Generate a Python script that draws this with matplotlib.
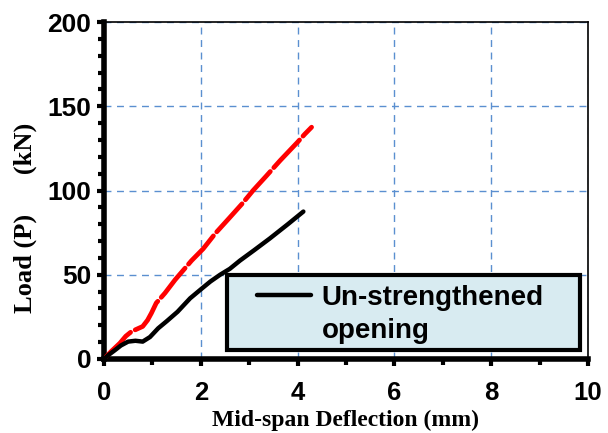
import matplotlib.pyplot as plt
from matplotlib.lines import Line2D
from matplotlib.patches import Rectangle
from matplotlib.ticker import MultipleLocator

# black curve: un-strengthened opening
defl_unstr = [0.0, 0.1, 0.23, 0.35, 0.5, 0.65, 0.8, 0.95, 1.12, 1.3, 1.52, 1.78,
              2.03, 2.2, 2.4, 2.6, 2.81, 3.1, 3.43, 3.8, 4.12]
load_unstr = [0.0, 2.5, 5.3, 8.0, 10.3, 10.8, 10.3, 13.0, 18.2, 22.5, 28.0, 36.0,
              42.0, 46.0, 50.0, 53.5, 58.4, 64.5, 71.6, 80.0, 87.5]

# red dashed curve
defl_red = [0.0, 0.15, 0.33, 0.45, 0.57, 0.8, 0.9, 0.98, 1.08, 1.26, 1.47, 1.81,
            2.05, 2.3, 2.6, 2.85, 3.08, 3.35, 3.64, 4.0, 4.15, 4.29]
load_red = [0.0, 4.5, 9.4, 13.5, 16.3, 19.3, 23.0, 27.2, 33.2, 39.1, 47.0, 58.4,
            65.4, 74.5, 84.0, 92.0, 100.0, 108.5, 117.8, 128.7, 133.5, 137.6]

x_ticks = [0, 2, 4, 6, 8, 10]
y_ticks = [0, 50, 100, 150, 200]
legend_lines = ["Un-strengthened", "opening"]

fig = plt.figure(figsize=(6.08, 4.33), dpi=100)
ax = fig.add_axes([0.171, 0.171, 0.796, 0.778])

ax.plot(defl_red, load_red, color="#ff0000", lw=3.4, dashes=(8, 1.1),
        solid_capstyle="round", dash_capstyle="round", zorder=3)
ax.plot(defl_unstr, load_unstr, color="black", lw=3.2, solid_capstyle="round",
        solid_joinstyle="round", zorder=4)

ax.set_xlim(0, 10)
ax.set_ylim(0, 200)
ax.set_xticks(x_ticks)
ax.set_yticks(y_ticks)
ax.xaxis.set_minor_locator(MultipleLocator(1))
ax.yaxis.set_minor_locator(MultipleLocator(10))
ax.tick_params(axis="both", which="major", direction="out", length=5, width=3)
ax.tick_params(axis="both", which="minor", direction="out", length=4, width=3)
ax.tick_params(axis="x", which="major", labelsize=18.5, pad=11)
ax.tick_params(axis="y", which="major", labelsize=19, pad=4)
for lbl in ax.get_xticklabels() + ax.get_yticklabels():
    lbl.set_fontweight("bold")
    lbl.set_family("Liberation Sans")

ax.grid(True, which="major", color="#5b8fd0", linestyle=(0, (5, 4)), lw=1.0)

ax.spines["left"].set_linewidth(4)
ax.spines["bottom"].set_linewidth(4)
ax.spines["top"].set_linewidth(1.2)
ax.spines["right"].set_linewidth(1.2)

ax.set_xlabel("Mid-span Deflection (mm)", family="Liberation Serif",
              fontweight="bold", fontsize=17)
ax.xaxis.set_label_coords(0.5, -0.15)
ax.set_ylabel("Load (P)      (kN)", family="Liberation Serif",
              fontweight="bold", fontsize=19)
ax.yaxis.set_label_coords(-0.138, 0.42)

# legend box drawn by hand so the padding matches
ax.add_patch(Rectangle((0.254, 0.027), 0.729, 0.222, transform=ax.transAxes,
                       facecolor="#d8ebf1", edgecolor="black", lw=3,
                       zorder=5, clip_on=False))
ax.add_line(Line2D([0.317, 0.428], [0.19, 0.19], transform=ax.transAxes,
                   color="black", lw=3.2, solid_capstyle="round", zorder=6))
for txt, yb in zip(legend_lines, [0.160, 0.061]):
    ax.text(0.45, yb, txt, transform=ax.transAxes, family="Liberation Sans",
            fontweight="bold", fontsize=20, va="baseline", ha="left", zorder=6)

fig.savefig("out.png", dpi=100)
